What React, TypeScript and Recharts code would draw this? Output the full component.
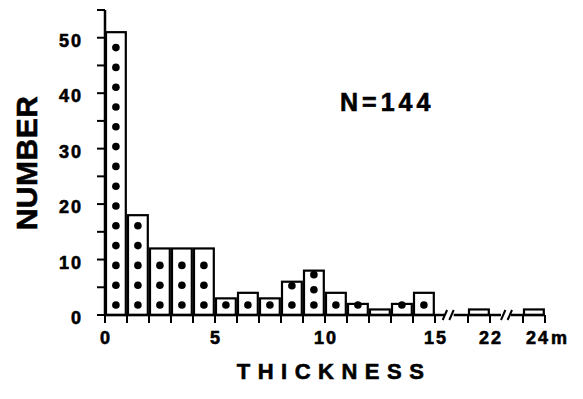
import React from 'react';
import { BarChart, Bar, XAxis, YAxis, ReferenceLine, Customized } from 'recharts';

// thickness bins (m), lower edge of each 1 m bin
const binStarts = [0, 1, 2, 3, 4, 5, 6, 7, 8, 9, 10, 11, 12, 13, 14, 21, 23];
const counts = [51, 18, 12, 12, 12, 3, 4, 3, 6, 8, 4, 2, 1, 2, 4, 1, 1];
// number of dots drawn in each bar of the original figure
const dotCounts = [14, 5, 3, 3, 3, 1, 1, 1, 2, 3, 1, 1, 0, 1, 1, 0, 0];

const xTickValues = [0, 1, 2, 3, 4, 5, 6, 7, 8, 9, 10, 11, 12, 13, 14, 15, 21, 22, 23, 24];
const xLabelValues = [0, 5, 10, 15, 22, 24];
const yTicks = [0, 5, 10, 15, 20, 25, 30, 35, 40, 45, 50, 55];
const yLabelValues = [0, 10, 20, 30, 40, 50];

// broken axis: 15..21 and 22..23 are squeezed
const toAxis = (v: number) => (v <= 15 ? v : v <= 22 ? v - 4.5 : v - 4);
const fromAxis = (p: number) => (p <= 15 ? p : p <= 17.5 ? p + 4.5 : p + 4);

const data = binStarts.map((s, i) => ({
  pos: toAxis(s) + 0.5,
  count: counts[i],
  dots: dotCounts[i],
}));

const FONT = '"Liberation Sans", Arial, Helvetica, sans-serif';
const bold = { fontFamily: FONT, fontWeight: 700, fill: '#000', stroke: '#000', strokeWidth: 0.6 };

const DottedBar = (props: any) => {
  const { x, y, width, height, payload } = props;
  const n = payload.dots;
  const bottom = y + height;
  const step = n > 1 ? Math.min(19.8, (height - 14) / (n - 1)) : 0;
  const dots = [];
  for (let k = 0; k < n; k++) {
    dots.push(<circle key={k} cx={x + width / 2} cy={bottom - 10 - k * step} r={3.8} fill="#000" />);
  }
  return (
    <g>
      <rect x={x} y={y} width={width} height={height} fill="#fff" stroke="#000" strokeWidth={2.2} />
      {dots}
    </g>
  );
};

const XTick = (props: any) => {
  const { x, y, payload } = props;
  const v = fromAxis(payload.value);
  if (!xLabelValues.includes(v)) return null;
  const style = { ...bold, fontSize: 18 };
  if (v === 24) {
    return (
      <g>
        <text x={x - 7} y={y + 19} textAnchor="middle" letterSpacing={2} style={style}>24</text>
        <text x={x + 6} y={y + 19} textAnchor="start" style={style}>m</text>
      </g>
    );
  }
  return (
    <text x={x + 1} y={y + 19} textAnchor="middle" letterSpacing={2} style={style}>
      {v}
    </text>
  );
};

const YTick = (props: any) => {
  const { x, y, payload } = props;
  if (!yLabelValues.includes(payload.value)) return null;
  return (
    <text
      x={x - 12}
      y={y + 3}
      textAnchor="end"
      dominantBaseline="central"
      letterSpacing={2}
      style={{ ...bold, fontSize: 18 }}
    >
      {payload.value}
    </text>
  );
};

const Titles = () => (
  <g style={bold}>
    <text x={37} y={163} textAnchor="middle" fontSize={30} letterSpacing={0.5} transform="rotate(-90 37 163)">
      NUMBER
    </text>
    <text x={334} y={379} textAnchor="middle" fontSize={22} letterSpacing={7.5}>
      THICKNESS
    </text>
    <text x={340} y={111} textAnchor="start" fontSize={25} letterSpacing={4}>
      N=144
    </text>
  </g>
);

const breaks = [15.6, 18.25];
const axisSegments = [
  [0, 15.45],
  [15.85, 18.0],
  [18.45, 20],
];

export default function App() {
  return (
    <div style={{ position: 'absolute', left: 0, top: 0, background: '#fff' }}>
      <BarChart
        width={583}
        height={399}
        data={data}
        margin={{ top: 10, right: 38, left: 55, bottom: 44 }}
        barCategoryGap={0}
        barGap={0}
      >
        <XAxis
          dataKey="pos"
          type="number"
          domain={[0, 20]}
          allowDataOverflow
          ticks={xTickValues.map(toAxis)}
          interval={0}
          tickSize={8}
          axisLine={false}
          tickLine={{ stroke: '#000', strokeWidth: 2 }}
          tick={<XTick />}
          height={40}
        />
        <YAxis
          type="number"
          domain={[0, 55]}
          ticks={yTicks}
          interval={0}
          tickSize={8}
          width={50}
          axisLine={{ stroke: '#000', strokeWidth: 2.5 }}
          tickLine={{ stroke: '#000', strokeWidth: 2 }}
          tick={<YTick />}
        />
        {axisSegments.map(([a, b], i) => (
          <ReferenceLine
            key={'seg' + i}
            segment={[{ x: a, y: 0 }, { x: b, y: 0 }]}
            stroke="#000"
            strokeWidth={2.5}
            ifOverflow="visible"
          />
        ))}
        {breaks.flatMap((b, i) =>
          [-0.15, 0.15].map((d, j) => (
            <ReferenceLine
              key={'brk' + i + j}
              segment={[{ x: b + d - 0.1, y: -0.9 }, { x: b + d + 0.1, y: 0.9 }]}
              stroke="#000"
              strokeWidth={2}
              ifOverflow="visible"
            />
          ))
        )}
        <Bar dataKey="count" barSize={22} shape={<DottedBar />} isAnimationActive={false} />
        <Customized component={<Titles />} />
      </BarChart>
    </div>
  );
}
